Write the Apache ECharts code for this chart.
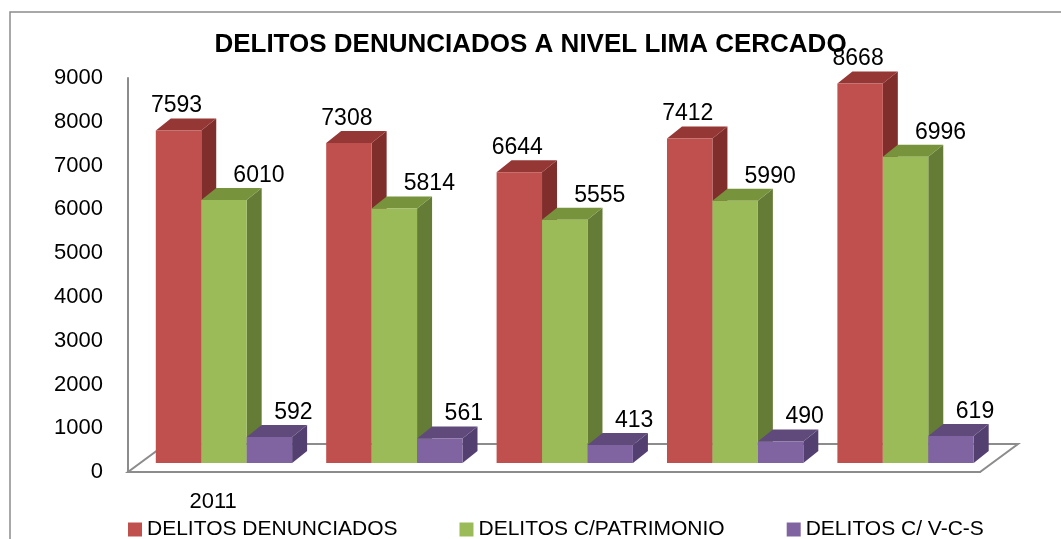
<!DOCTYPE html>
<html>
<head>
<meta charset="utf-8">
<script src="https://cdn.jsdelivr.net/npm/echarts@6/dist/echarts.min.js"></script>
<style>
  html, body { margin: 0; padding: 0; background: #fff; }
  #main { width: 1061px; height: 539px; }
</style>
</head>
<body>
<div id="main"></div>
<script>
// datos
var years = ['2011', '', '', '', ''];
var denunciados = [7593, 7308, 6644, 7412, 8668];
var patrimonio = [6010, 5814, 5555, 5990, 6996];
var vcs = [592, 561, 413, 490, 619];

var names = ['DELITOS DENUNCIADOS', 'DELITOS C/PATRIMONIO', 'DELITOS C/ V-C-S'];
var fronts = ['#C0504D', '#9BBB59', '#8064A2'];
var tops = ['#953735', '#77933C', '#5F4A7B'];
var sides = ['#7F2E2C', '#657C36', '#534071'];
var labelOff = [-2, 35, 24];

var font = 'Liberation Sans, Arial, sans-serif';

// 3d bar drawn from the axis coords
function bar3d(k) {
  return function (params, api) {
    var c = api.coord([api.value(0), api.value(1)]);
    var base = api.coord([api.value(0), 0]);
    var band = api.size([1, 0])[0];
    var bw = band * 0.8 / 3;
    var dx = 15, dy = 12;
    var x0 = c[0] - 1.5 * bw + k * bw + 10.75;
    var top = c[1] - 9;
    var bottom = base[1] - 9;
    return {
      type: 'group',
      children: [
        {
          type: 'polygon',
          shape: { points: [[x0 + bw, top], [x0 + bw + dx, top - dy], [x0 + bw + dx, bottom - dy], [x0 + bw, bottom]] },
          style: { fill: sides[k] }
        },
        {
          type: 'polygon',
          shape: { points: [[x0, top], [x0 + dx, top - dy], [x0 + bw + dx, top - dy], [x0 + bw, top]] },
          style: { fill: tops[k] }
        },
        {
          type: 'rect',
          shape: { x: x0, y: top, width: bw, height: bottom - top },
          style: { fill: fronts[k] }
        },
        {
          type: 'text',
          x: x0 + bw / 2 + labelOff[k],
          y: top - dy - 1,
          style: {
            text: String(api.value(1)),
            fill: '#000',
            font: '23px ' + font,
            textAlign: 'center',
            textVerticalAlign: 'bottom'
          }
        }
      ]
    };
  };
}

function mkData(arr) {
  return arr.map(function (v, i) { return [i, v]; });
}

var chart = echarts.init(document.getElementById('main'));
chart.setOption({
  animation: false,
  title: {
    text: 'DELITOS DENUNCIADOS A NIVEL LIMA CERCADO',
    left: 'center',
    top: 27,
    textStyle: { fontFamily: font, fontSize: 26, fontWeight: 'bold', color: '#000' }
  },
  legend: {
    data: names,
    left: 123,
    top: 514,
    icon: 'rect',
    itemWidth: 14,
    itemHeight: 14,
    itemGap: 62,
    textStyle: { fontFamily: font, fontSize: 21, color: '#000' }
  },
  graphic: [
    {
      type: 'rect',
      z: -10,
      shape: { x: 10, y: 12, width: 1100, height: 600 },
      style: { fill: 'none', stroke: '#8c8c8c', lineWidth: 1.5 }
    },
    {
      type: 'polygon',
      z: -5,
      shape: { points: [[128, 472], [980, 472], [1018, 444], [166, 444]] },
      style: { fill: '#fff', stroke: '#8c8c8c', lineWidth: 2 }
    }
  ],
  grid: { left: 128, right: 81, top: 78, bottom: 67 },
  xAxis: {
    type: 'category',
    data: years,
    axisLine: { show: true, lineStyle: { color: '#8c8c8c', width: 2 } },
    axisTick: { show: false },
    axisLabel: { margin: 19, fontFamily: font, fontSize: 22, color: '#000', interval: 0 }
  },
  yAxis: {
    type: 'value',
    min: 0,
    max: 9000,
    interval: 1000,
    axisLine: { show: true, lineStyle: { color: '#8c8c8c', width: 2 } },
    axisTick: { show: false },
    splitLine: { show: false },
    axisLabel: {
      margin: 25, fontFamily: font, fontSize: 22, color: '#000',
      formatter: function (v) { return String(v); }
    }
  },
  series: [
    { name: names[0], type: 'custom', renderItem: bar3d(0), itemStyle: { color: fronts[0] }, data: mkData(denunciados) },
    { name: names[1], type: 'custom', renderItem: bar3d(1), itemStyle: { color: fronts[1] }, data: mkData(patrimonio) },
    { name: names[2], type: 'custom', renderItem: bar3d(2), itemStyle: { color: fronts[2] }, data: mkData(vcs) }
  ]
});
</script>
</body>
</html>
